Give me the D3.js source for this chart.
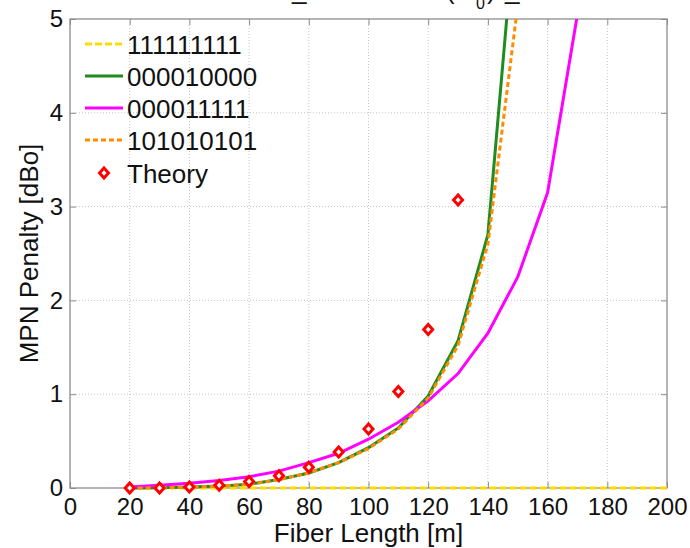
<!DOCTYPE html>
<html>
<head>
<meta charset="utf-8">
<script src="https://cdn.jsdelivr.net/npm/d3@7"></script>
<style>
  body { margin: 0; background: #fff; }
  svg { display: block; font-family: "Liberation Sans", Arial, sans-serif; }
  .axis path { display: none; }
  .axis line { stroke: #8c8c8c; stroke-width: 1; }
  .axis text { fill: #111; font-size: 24px; }
</style>
</head>
<body>
<div id="chart"></div>
<script>
// fiber length [m]
const fiberLength = [20, 30, 40, 50, 60, 70, 80, 90, 100, 110, 120, 130, 140, 150, 160, 170, 180, 190, 200];

// MPN penalty [dBo] per bit pattern
const pattern111111111 = [0, 0, 0, 0, 0, 0, 0, 0, 0, 0, 0, 0, 0, 0, 0, 0, 0, 0, 0];
const pattern000010000 = [0, 0.002, 0.01, 0.02, 0.04, 0.09, 0.16, 0.27, 0.43, 0.64, 0.98, 1.57, 2.7, 6.35];
const pattern000011111 = [0.01, 0.03, 0.05, 0.08, 0.12, 0.18, 0.27, 0.37, 0.52, 0.7, 0.93, 1.22, 1.65, 2.25, 3.15, 5.05];
const pattern101010101 = [0, 0.002, 0.01, 0.02, 0.04, 0.09, 0.16, 0.27, 0.42, 0.63, 0.96, 1.52, 2.6, 5.15];
const theory = [0, 0, 0.01, 0.03, 0.07, 0.13, 0.22, 0.385, 0.63, 1.03, 1.69, 3.07];

const xTicks = [0, 20, 40, 60, 80, 100, 120, 140, 160, 180, 200];
const yTicks = [0, 1, 2, 3, 4, 5];

const series = [
  { name: "111111111", values: pattern111111111, color: "#ffdc00", dash: "7,3" },
  { name: "000010000", values: pattern000010000, color: "#1e8c1e", dash: null },
  { name: "000011111", values: pattern000011111, color: "#ff00ff", dash: null },
  { name: "101010101", values: pattern101010101, color: "#ff8c00", dash: "5,3" },
];

const W = 690, H = 548;
const [mTop, mRight, mBottom, mLeft] = [19, 667, 488, 70];

const x = d3.scaleLinear().domain([0, 200]).range([mLeft, mRight]);
const y = d3.scaleLinear().domain([0, 5]).range([mBottom, mTop]);

const svg = d3.select("#chart").append("svg")
  .attr("width", W).attr("height", H);

// clip a bit outside the frame so lines on the edge keep their width
svg.append("defs").append("clipPath").attr("id", "plot")
  .append("rect")
  .attr("x", mLeft).attr("y", mTop)
  .attr("width", mRight - mLeft).attr("height", mBottom - mTop + 2);

// grid
const grid = svg.append("g").attr("stroke", "#c4c4c4").attr("stroke-dasharray", "1,2");
grid.selectAll(".gx").data(xTicks.slice(1, -1)).join("line")
  .attr("x1", x).attr("x2", x).attr("y1", mTop).attr("y2", mBottom);
grid.selectAll(".gy").data(yTicks.slice(1, -1)).join("line")
  .attr("x1", mLeft).attr("x2", mRight).attr("y1", y).attr("y2", y);

// axes (ticks inward, matlab style)
svg.append("g").attr("class", "axis")
  .attr("transform", `translate(0,${mBottom})`)
  .call(d3.axisBottom(x).tickValues(xTicks).tickSize(-6).tickPadding(10).tickFormat(d3.format("d")));
svg.append("g").attr("class", "axis")
  .attr("transform", `translate(${mLeft},0)`)
  .call(d3.axisLeft(y).tickValues(yTicks).tickSize(-6).tickPadding(7).tickFormat(d3.format("d")));
svg.append("g").attr("class", "axis")
  .attr("transform", `translate(0,${mTop})`)
  .call(d3.axisTop(x).tickValues(xTicks).tickSize(-6).tickFormat(""));
svg.append("g").attr("class", "axis")
  .attr("transform", `translate(${mRight},0)`)
  .call(d3.axisRight(y).tickValues(yTicks).tickSize(-6).tickFormat(""));

svg.append("rect")
  .attr("x", mLeft).attr("y", mTop)
  .attr("width", mRight - mLeft).attr("height", mBottom - mTop)
  .attr("fill", "none").attr("stroke", "#8c8c8c").attr("stroke-width", 1.3);

// curves
const line = d3.line().x((d) => x(d[0])).y((d) => y(d[1]));
const plot = svg.append("g").attr("clip-path", "url(#plot)");

series.forEach((s) => {
  plot.append("path")
    .datum(s.values.map((v, i) => [fiberLength[i], v]))
    .attr("fill", "none")
    .attr("stroke", s.color)
    .attr("stroke-width", 3)
    .attr("stroke-dasharray", s.dash)
    .attr("d", line);
});

const diamond = (cx, cy) => `M${cx},${cy - 5}L${cx + 4.5},${cy}L${cx},${cy + 5}L${cx - 4.5},${cy}Z`;

svg.append("g").selectAll("path")
  .data(theory.map((v, i) => [fiberLength[i], v]))
  .join("path")
  .attr("d", (d) => diamond(x(d[0]), y(d[1])))
  .attr("fill", "#fff")
  .attr("stroke", "#ff0000")
  .attr("stroke-width", 3);

// legend
const legend = svg.append("g");
const rowY = [44, 76, 108, 140, 173];
series.forEach((s, i) => {
  legend.append("line")
    .attr("x1", 85).attr("x2", 123).attr("y1", rowY[i]).attr("y2", rowY[i])
    .attr("stroke", s.color).attr("stroke-width", 3)
    .attr("stroke-dasharray", s.dash);
  legend.append("text")
    .attr("x", 127).attr("y", rowY[i] + 9.5)
    .attr("font-size", 26).attr("fill", "#111")
    .text(s.name);
});
legend.append("path")
  .attr("d", diamond(104, rowY[4]))
  .attr("fill", "#fff").attr("stroke", "#ff0000").attr("stroke-width", 3);
legend.append("text")
  .attr("x", 127).attr("y", rowY[4] + 9.5)
  .attr("font-size", 26).attr("fill", "#111")
  .text("Theory");

// axis titles
svg.append("text")
  .attr("x", (mLeft + mRight) / 2).attr("y", 542)
  .attr("text-anchor", "middle").attr("font-size", 26).attr("fill", "#111")
  .text("Fiber Length [m]");
svg.append("text")
  .attr("transform", `translate(38,${(mTop + mBottom) / 2}) rotate(-90)`)
  .attr("text-anchor", "middle").attr("font-size", 26).attr("fill", "#111")
  .text("MPN Penalty [dBo]");

// title, mostly cut off above the frame (as in the source image)
const title = svg.append("text").attr("font-size", 26).attr("fill", "#111").attr("y", -1);
title.append("tspan").attr("x", 292).text("_");
title.append("tspan").attr("x", 446).text("(L");
title.append("tspan").attr("x", 476).attr("y", 9).attr("font-size", 16).text("0");
title.append("tspan").attr("x", 487).attr("y", -1).text(")");
title.append("tspan").attr("x", 505).text("_");
</script>
</body>
</html>
